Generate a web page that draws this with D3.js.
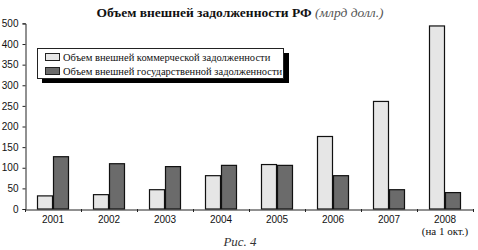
<!DOCTYPE html>
<html><head><meta charset="utf-8">
<script src="https://cdn.jsdelivr.net/npm/d3@7"></script>
<style>body{margin:0;background:#fff}svg{display:block}</style>
</head><body>
<svg id="c" width="478" height="250"></svg>
<script>
const years = ["2001","2002","2003","2004","2005","2006","2007","2008"];
const yearSub = ["","","","","","","","(на 1 окт.)"];
const commercial = [33, 36, 48, 82, 109, 177, 262, 445];
const government = [128, 111, 104, 107, 107, 82, 48, 41];
const seriesNames = ["Объем внешней коммерческой задолженности","Объем внешней государственной задолженности"];
const yTickValues = [0,50,100,150,200,250,300,350,400,450];
const yTickLabels = ["0","50","100","150","200","250","300","350","400","500"];

const svg = d3.select("#c");
const x0 = d3.scaleBand().domain(years).range([25,473]).paddingInner(0).paddingOuter(0);
const x1 = d3.scaleBand().domain([0,1]).range([12,44]);
const y = d3.scaleLinear().domain([0,450]).range([209,23.4]);
const fills = ["#e6e6e6","#6b6b6b"];
const series = [commercial, government];

series.forEach((vals,si)=>{
  svg.append("g").selectAll("rect").data(vals).join("rect")
    .attr("x",(d,i)=>x0(years[i])+x1(si)+0.5)
    .attr("y",d=>y(d)+0.5)
    .attr("width",x1.bandwidth()-1)
    .attr("height",d=>y(0)-y(d)-0.5)
    .attr("fill",fills[si]).attr("stroke","#111").attr("stroke-width",1.2);
});

const ya = svg.append("g").attr("transform","translate(25.5,0)")
  .call(d3.axisLeft(y).tickValues(yTickValues).tickSize(3).tickFormat((d,i)=>yTickLabels[i]));
ya.select(".domain").attr("stroke","#222");
ya.selectAll(".tick line").attr("stroke","#222");
ya.selectAll("text").attr("font-family","Liberation Sans, Arial, sans-serif").attr("font-size","10px").attr("fill","#111").attr("dx","-1");

const xa = svg.append("g").attr("transform","translate(0,209.5)")
  .call(d3.axisBottom(x0).tickSize(0).tickFormat(""));
xa.select(".domain").attr("stroke","#222");
const sepTicks = years.map((d,i)=>x0(d)).concat([473]);
svg.append("g").selectAll("line").data(sepTicks).join("line")
  .attr("x1",d=>d+0.5).attr("x2",d=>d+0.5).attr("y1",209).attr("y2",212)
  .attr("stroke","#222");
svg.append("g").selectAll("text").data(years).join("text")
  .attr("x",d=>x0(d)+x0.bandwidth()/2).attr("y",223)
  .attr("text-anchor","middle").attr("font-family","Liberation Sans, Arial, sans-serif")
  .attr("font-size","10px").attr("fill","#111").text(d=>d);
svg.append("g").selectAll("text").data(yearSub.map((s,i)=>({s,i})).filter(o=>o.s)).join("text")
  .attr("x",o=>x0(years[o.i])+x0.bandwidth()/2).attr("y",235)
  .attr("text-anchor","middle").attr("font-family","Liberation Serif, Times New Roman, serif")
  .attr("font-size","11px").attr("fill","#111").text(o=>o.s);

const lg = svg.append("g");
lg.append("rect").attr("x",42).attr("y",53).attr("width",247).attr("height",30).attr("fill","#000");
lg.append("rect").attr("x",37.5).attr("y",48.5).attr("width",246).attr("height",30).attr("fill","#fff").attr("stroke","#222");
seriesNames.forEach((n,i)=>{
  const cy = 57 + i*14;
  lg.append("rect").attr("x",45.5).attr("y",cy-3.5).attr("width",14).attr("height",7)
    .attr("fill",fills[i]).attr("stroke","#222");
  lg.append("text").attr("x",63).attr("y",cy+3.5).attr("font-family","Liberation Serif, Times New Roman, serif")
    .attr("font-size","10.5px").attr("fill","#111").text(n);
});

const t = svg.append("text").attr("x",240).attr("y",17).attr("text-anchor","middle")
  .attr("font-family","Liberation Serif, Times New Roman, serif").attr("font-size","13.5px");
t.append("tspan").attr("font-weight","bold").attr("fill","#111").text("Объем внешней задолженности РФ ");
t.append("tspan").attr("font-style","italic").attr("fill","#555").text("(млрд долл.)");

svg.append("text").attr("x",240).attr("y",246).attr("text-anchor","middle")
  .attr("font-family","Liberation Serif, Times New Roman, serif").attr("font-style","italic")
  .attr("font-size","13px").attr("fill","#333").text("Рис. 4");
</script>
</body></html>
